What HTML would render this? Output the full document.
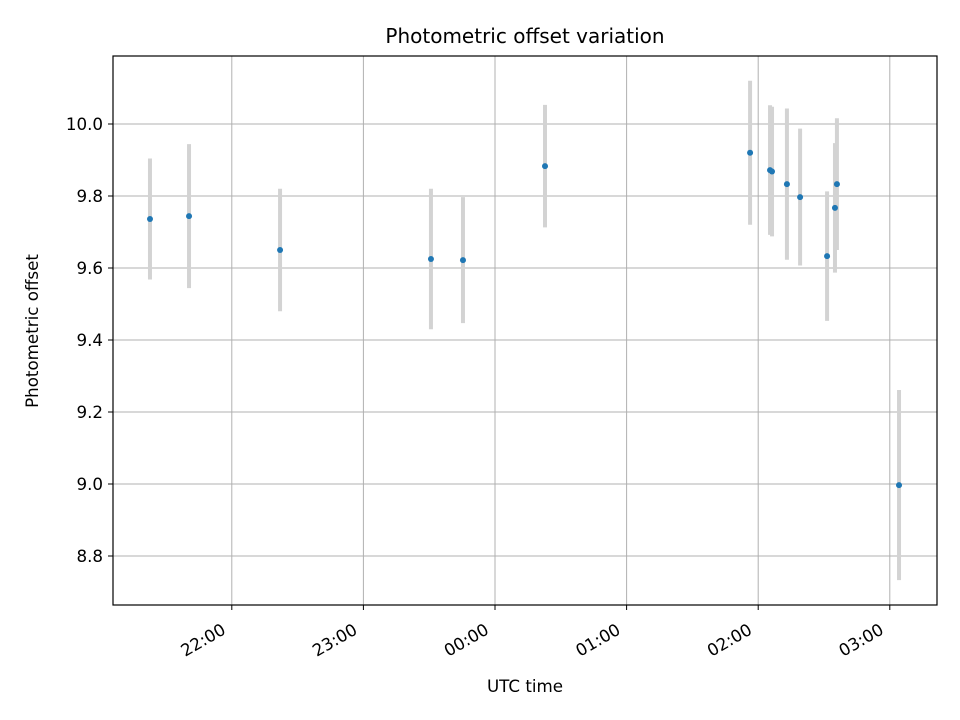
<!DOCTYPE html>
<html><head><meta charset="utf-8"><style>
body{margin:0;background:#fff;}
svg{display:block;font-family:"DejaVu Sans","Liberation Sans",sans-serif;}
</style></head><body>
<svg id="chart" width="960" height="720">
<rect x="0" y="0" width="960" height="720" fill="#fff"/>
<text x="525" y="43" style="font-size:20px" text-anchor="middle">Photometric offset variation</text>
<text x="525" y="692" style="font-size:16.7px" text-anchor="middle">UTC time</text>
<text transform="translate(38,331) rotate(-90)" style="font-size:16.7px" text-anchor="middle">Photometric offset</text>
<g id="grid"></g><g id="marks"></g><g id="ticks"></g>
<rect x="113" y="56" width="824" height="549" fill="none" stroke="#000" stroke-width="1.2"/>
</svg>
<script>
// minutes relative to 00:00 UTC
const times=[-157.3,-139.5,-98,-29.2,-14.6,22.8,116.3,125.4,126.3,133.1,139.1,151.4,155,155.9,184.2];
const offsets=[9.736,9.744,9.65,9.625,9.622,9.883,9.92,9.872,9.868,9.833,9.797,9.633,9.767,9.833,8.997];
const errors=[0.168,0.2,0.17,0.195,0.175,0.17,0.2,0.18,0.18,0.21,0.19,0.18,0.18,0.183,0.264];
const yTicks=[8.8,9.0,9.2,9.4,9.6,9.8,10.0];
const xTickMinutes=[-120,-60,0,60,120,180];
const xTickLabels=["22:00","23:00","00:00","01:00","02:00","03:00"];
const NS="http://www.w3.org/2000/svg";
const X=m=>495+m*131.6/60;
const Y=v=>124+(10-v)*360;
function mk(tag,attrs,parent){const e=document.createElementNS(NS,tag);for(const k in attrs)e.setAttribute(k,attrs[k]);document.getElementById(parent).appendChild(e);return e;}
yTicks.forEach((v,i)=>{
 const g=mk('line',{x1:113,x2:937,y1:Y(v),y2:Y(v),stroke:'#b0b0b0','stroke-width':1},'grid');
 
 
 const t=mk('line',{x1:108,x2:113,y1:Y(v),y2:Y(v),stroke:'#000'},'ticks');
 
 
 const l=mk('text',{x:103,y:Y(v)+6,style:'font-size:16.7px','text-anchor':'end'},'ticks');
 l.textContent=v.toFixed(1);
 
 
});
xTickMinutes.forEach((m,i)=>{
 const x=X(m);
 const g=mk('line',{x1:x,x2:x,y1:56,y2:605,stroke:'#b0b0b0','stroke-width':1},'grid');
 
 
 const t=mk('line',{x1:x,x2:x,y1:605,y2:610,stroke:'#000'},'ticks');
 
 
 const lx=x-5, ly=633;
 const l=mk('text',{x:lx,y:ly,style:'font-size:16.7px','text-anchor':'end',transform:`rotate(-30 ${lx} ${ly})`},'ticks');
 l.textContent=xTickLabels[i];
 
 
});
times.forEach((m,i)=>{
 const x=X(m);
 const e=mk('line',{x1:x,x2:x,y1:Y(offsets[i]+errors[i]),y2:Y(offsets[i]-errors[i]),stroke:'#d3d3d3','stroke-width':4},'marks');
 
 
});
times.forEach((m,i)=>{
 const c=mk('circle',{cx:X(m),cy:Y(offsets[i]),r:3,fill:'#1f77b4'},'marks');
 
 
});
</script>
</body></html>
